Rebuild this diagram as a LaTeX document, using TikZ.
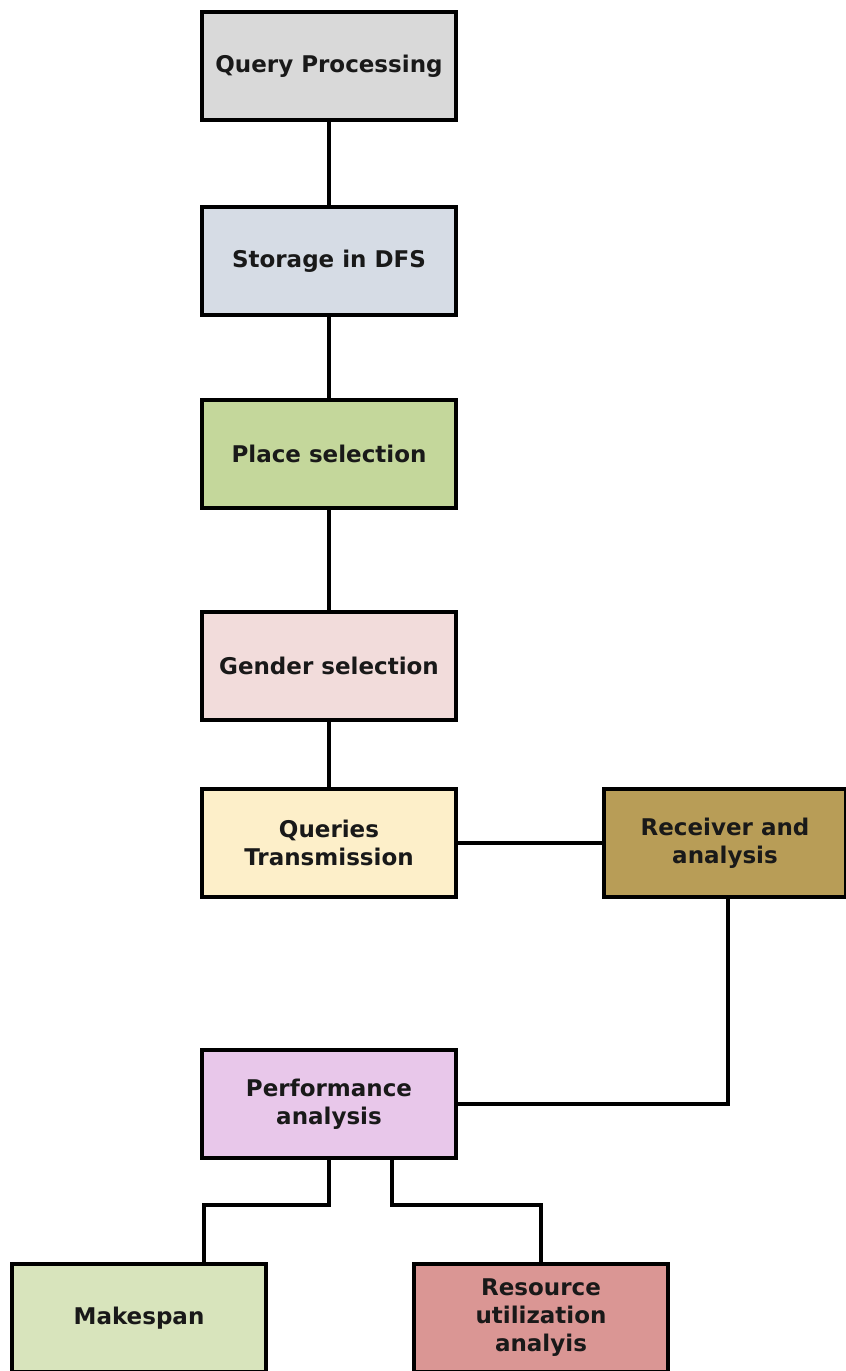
\documentclass[tikz,border=0pt]{standalone}
\usepackage{fontspec}
\setmainfont{DejaVu Sans}
\begin{document}
\begin{tikzpicture}[x=1pt,y=1pt,
  box/.style={draw=black,line width=4pt,minimum width=254pt,minimum height=108pt,
    inner sep=2pt,align=center,font=\fontsize{23}{28}\selectfont\bfseries,text=black!90},
  link/.style={draw=black,line width=3.2pt}]
\useasboundingbox (0,0) rectangle (846,-1371);
\definecolor{cquery}{HTML}{D9D9D9}
\definecolor{cstore}{HTML}{D6DCE5}
\definecolor{cplace}{HTML}{C4D79B}
\definecolor{cgender}{HTML}{F2DCDB}
\definecolor{ctrans}{HTML}{FDEFC9}
\definecolor{crecv}{HTML}{B89D57}
\definecolor{cperf}{HTML}{E8C7EA}
\definecolor{cmake}{HTML}{D8E4BC}
\definecolor{cres}{HTML}{DA9694}

\node[box,fill=cquery]  (qp)   at (329,-66)   {Query Processing};
\node[box,fill=cstore]  (dfs)  at (329,-261)  {Storage in DFS};
\node[box,fill=cplace]  (pl)   at (329,-454)  {Place selection};
\node[box,fill=cgender] (gs)   at (329,-666)  {Gender selection};
\node[box,fill=ctrans]  (qt)   at (329,-843)  {Queries\\Transmission};
\node[box,fill=crecv,minimum width=242pt] (ra) at (725,-843) {Receiver and\\analysis};
\node[box,fill=cperf]   (pa)   at (329,-1104) {Performance\\analysis};
\node[box,fill=cmake]   (mk)   at (139,-1318) {Makespan};
\node[box,fill=cres]    (ru)   at (541,-1318) {Resource\\utilization\\analyis};

\coordinate (jl) at (204,-1205);
\coordinate (jr) at (541,-1205);

\draw[link] (qp.south) -- (dfs.north);
\draw[link] (dfs.south) -- (pl.north);
\draw[link] (pl.south) -- (gs.north);
\draw[link] (gs.south) -- (qt.north);
\draw[link] (qt.east) -- (ra.west);
\draw[link] ([xshift=3pt]ra.south) |- (pa.east);
\draw[link] (pa.south) |- (jl) -- (jl |- mk.north);
\draw[link] ([xshift=63pt]pa.south) |- (jr) -- (ru.north);
\end{tikzpicture}
\end{document}
